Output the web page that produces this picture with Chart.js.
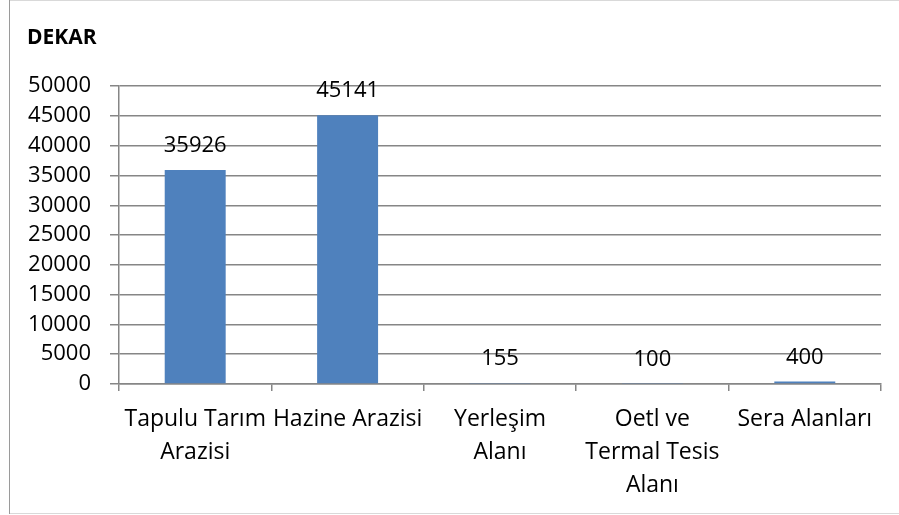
<!DOCTYPE html>
<html>
<head>
<meta charset="utf-8">
<script src="https://cdn.jsdelivr.net/npm/chart.js@4.4.0/dist/chart.umd.min.js"></script>
<style>
  html, body { margin: 0; padding: 0; background: #fff; }
  canvas { display: block; }
</style>
</head>
<body>
<canvas id="dekarChart" width="899" height="515"></canvas>
<script>
// categories (wrapped the way the original shows them)
const categories = [
    ['Tapulu Tarım', 'Arazisi'],
    ['Hazine Arazisi'],
    ['Yerleşim', 'Alanı'],
    ['Oetl ve', 'Termal Tesis', 'Alanı'],
    ['Sera Alanları']
];
const values = [35926, 45141, 155, 100, 400];
const yTicks = [0, 5000, 10000, 15000, 20000, 25000, 30000, 35000, 40000, 45000, 50000];

const FONT = "'Open Sans', 'Liberation Sans', sans-serif";

// frame round the whole chart
const framePlugin = {
    id: 'frame',
    beforeDraw(chart) {
        const c = chart.ctx;
        c.save();
        c.fillStyle = '#fff';
        c.fillRect(0, 0, chart.width, chart.height);
        c.lineWidth = 1;
        c.strokeStyle = '#d9d9d9';
        c.beginPath();
        c.moveTo(9, 0.5); c.lineTo(chart.width, 0.5);
        c.moveTo(9, 513.5); c.lineTo(chart.width, 513.5);
        c.stroke();
        c.strokeStyle = '#9a9a9a';
        c.beginPath();
        c.moveTo(9.5, 0); c.lineTo(9.5, 514);
        c.stroke();
        c.restore();
    }
};

// value labels above bars
const valueLabels = {
    id: 'valueLabels',
    afterDatasetsDraw(chart) {
        const c = chart.ctx;
        const meta = chart.getDatasetMeta(0);
        c.save();
        c.font = '22px ' + FONT;
        c.fillStyle = '#000';
        c.textAlign = 'center';
        c.textBaseline = 'middle';
        meta.data.forEach((bar, i) => {
            c.fillText(String(values[i]), bar.x, bar.y - 24);
        });
        c.restore();
    }
};

new Chart(document.getElementById('dekarChart'), {
    type: 'bar',
    data: {
        labels: categories,
        datasets: [{
            data: values,
            backgroundColor: '#4f81bd',
            borderWidth: 0,
            barPercentage: 0.4,
            categoryPercentage: 1
        }]
    },
    options: {
        responsive: false,
        animation: false,
        layout: {
            padding: { left: 27, right: 18, top: 0, bottom: 0 }
        },
        plugins: {
            legend: { display: false },
            tooltip: { enabled: false },
            title: {
                display: true,
                text: 'DEKAR',
                align: 'start',
                color: '#000',
                font: { family: FONT, size: 21, weight: 'bold', lineHeight: 1.2 },
                padding: { top: 25, bottom: 36 }
            }
        },
        scales: {
            y: {
                min: 0,
                max: 50000,
                afterBuildTicks(scale) {
                    scale.ticks = yTicks.map(v => ({ value: v }));
                },
                afterFit(scale) {
                    scale.width = 92;
                },
                ticks: {
                    color: '#000',
                    padding: 19,
                    font: { family: FONT, size: 22 },
                    callback: v => String(v)
                },
                grid: {
                    color: '#868686',
                    lineWidth: 1.5,
                    tickLength: 9
                },
                border: { color: '#868686', width: 1.5 }
            },
            x: {
                afterFit(scale) {
                    scale.height = 131;
                },
                ticks: {
                    color: '#000',
                    padding: 12,
                    maxRotation: 0,
                    autoSkip: false,
                    font: { family: FONT, size: 23, lineHeight: 1.43 }
                },
                grid: {
                    offset: true,
                    drawOnChartArea: false,
                    color: '#868686',
                    lineWidth: 1.5,
                    tickLength: 7
                },
                border: { color: '#868686', width: 1.5 }
            }
        }
    },
    plugins: [framePlugin, valueLabels]
});
</script>
</body>
</html>
